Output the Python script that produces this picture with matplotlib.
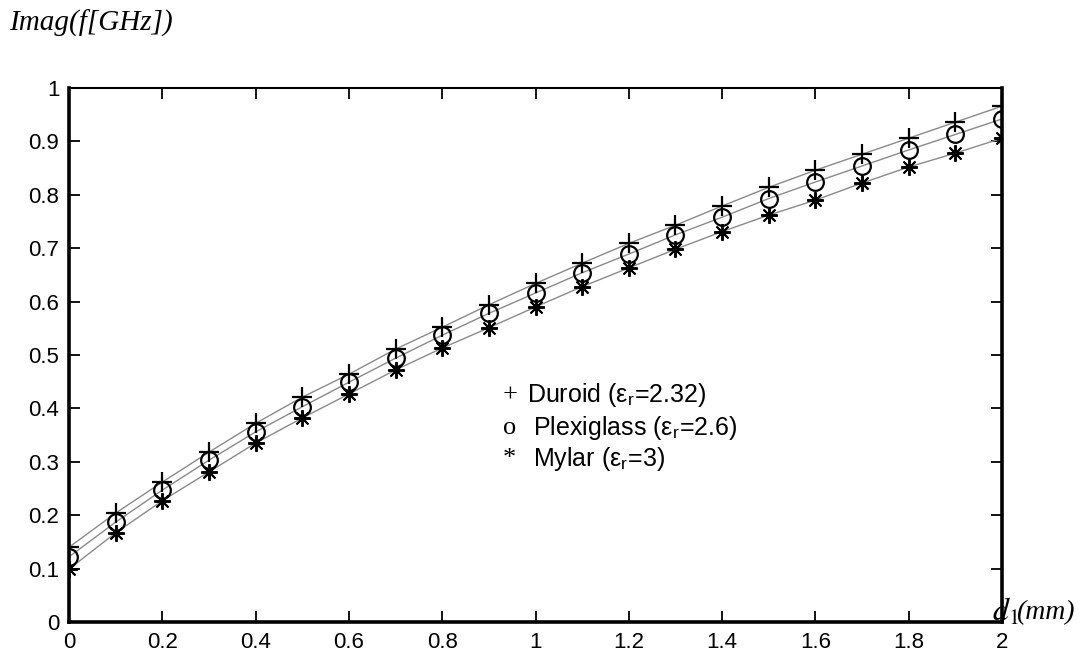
import matplotlib
matplotlib.use("Agg")
import matplotlib.pyplot as plt
import numpy as np

d1 = [0.0, 0.1, 0.2, 0.3, 0.4, 0.5, 0.6, 0.7, 0.8, 0.9, 1.0,
      1.1, 1.2, 1.3, 1.4, 1.5, 1.6, 1.7, 1.8, 1.9, 2.0]
duroid = [0.140, 0.204, 0.262, 0.318, 0.372, 0.421, 0.464, 0.511, 0.552, 0.594, 0.634,
          0.672, 0.709, 0.743, 0.779, 0.814, 0.846, 0.876, 0.906, 0.936, 0.966]
plexiglass = [0.122, 0.187, 0.247, 0.303, 0.356, 0.403, 0.449, 0.494, 0.537, 0.578, 0.616,
              0.654, 0.689, 0.725, 0.758, 0.793, 0.824, 0.854, 0.884, 0.913, 0.942]
mylar = [0.099, 0.167, 0.227, 0.281, 0.335, 0.382, 0.427, 0.472, 0.513, 0.551, 0.590,
         0.628, 0.663, 0.698, 0.731, 0.762, 0.790, 0.822, 0.852, 0.878, 0.906]

xticks = [0, 0.2, 0.4, 0.6, 0.8, 1, 1.2, 1.4, 1.6, 1.8, 2]
xticklabels = ["0", "0.2", "0.4", "0.6", "0.8", "1", "1.2", "1.4", "1.6", "1.8", "2"]
yticks = [0, 0.1, 0.2, 0.3, 0.4, 0.5, 0.6, 0.7, 0.8, 0.9, 1]
yticklabels = ["0", "0.1", "0.2", "0.3", "0.4", "0.5", "0.6", "0.7", "0.8", "0.9", "1"]

plt.rcParams['font.family'] = ['Liberation Sans', 'DejaVu Sans']
plt.rcParams['mathtext.fontset'] = 'stix'

fig = plt.figure(figsize=(10.84, 6.53), dpi=100)
ax = fig.add_axes([69/1084, 31/653, (1002-69)/1084, (622-88)/653])

line_col = '#8a8a8a'
for y in (duroid, plexiglass, mylar):
    ax.plot(d1, y, color=line_col, lw=1.0, zorder=2)

ax.plot(d1, duroid, ls='none', marker='+', ms=14, mew=1.6, color='black', zorder=3)
ax.plot(d1, plexiglass, ls='none', marker='o', ms=12, mew=1.6, mfc='none', mec='black', zorder=3)
ax.plot(d1, mylar, ls='none', marker=(8, 2, 0), ms=12, mew=1.4, color='black', zorder=3)

ax.set_xlim(0, 2)
ax.set_ylim(0, 1)
ax.set_xticks(xticks)
ax.set_xticklabels(xticklabels)
ax.set_yticks(yticks)
ax.set_yticklabels(yticklabels)
ax.tick_params(direction='in', length=8, width=1.3, labelsize=16,
               top=True, right=True, pad=7, colors='black')
ax.tick_params(axis='x', pad=7)

ax.spines['left'].set_linewidth(2.6)
ax.spines['bottom'].set_linewidth(2.6)
ax.spines['right'].set_linewidth(2.6)
ax.spines['top'].set_linewidth(1.5)

# legend as text
ax.text(0.930, 0.425, "+", family='Liberation Serif', fontsize=19, va='center', ha='left')
ax.text(0.982, 0.425, "Duroid (ε$_\\mathregular{r}$=2.32)", fontsize=18, va='center', ha='left')
ax.text(0.930, 0.363, "o", family='Liberation Serif', fontsize=19, va='center', ha='left')
ax.text(0.995, 0.363, "Plexiglass (ε$_\\mathregular{r}$=2.6)", fontsize=18, va='center', ha='left')
ax.text(0.930, 0.305, "*", family='Liberation Serif', fontsize=19, va='center', ha='left')
ax.text(0.995, 0.305, "Mylar (ε$_\\mathregular{r}$=3)", fontsize=18, va='center', ha='left')

fig.text(9/1084, 1 - 23/653, "Imag(f[GHz])", family='Liberation Serif', style='italic',
         fontsize=21, va='center', ha='left')
fig.text(992/1084, 1 - 612/653, r"$d_1$", fontsize=23, va='center', ha='left')
fig.text(1016/1084, 1 - 613/653, "(mm)", family='Liberation Serif', style='italic',
         fontsize=20, va='center', ha='left')

fig.savefig("out.png", dpi=100)
